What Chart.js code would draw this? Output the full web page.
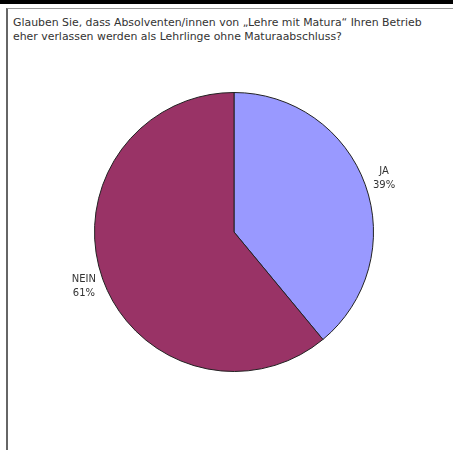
<!DOCTYPE html>
<html>
<head>
<meta charset="utf-8">
<script src="https://cdn.jsdelivr.net/npm/chart.js@4"></script>
<style>
  html, body { margin: 0; padding: 0; background: #fff; }
  #wrap { position: relative; width: 453px; height: 450px; overflow: hidden; }
  #topbar { position: absolute; left: 0; top: 0; width: 453px; height: 4px; background: #000; }
  #frame { position: absolute; left: 6px; top: 8px; width: 460px; height: 460px;
           border-left: 2px solid #666; border-top: 1px solid #999; }
  #title { position: absolute; left: 13px; top: 16px; font: 10.9px "DejaVu Sans", sans-serif;
           line-height: 14px; color: #333; white-space: nowrap; }
  canvas { position: absolute; left: 0; top: 0; }
</style>
</head>
<body>
<div id="wrap">
  <div id="topbar"></div>
  <div id="frame"></div>
  <div id="title">Glauben Sie, dass Absolventen/innen von „Lehre mit Matura“ Ihren Betrieb<br>eher verlassen werden als Lehrlinge ohne Maturaabschluss?</div>
  <canvas id="pie" width="453" height="450"></canvas>
</div>
<script>
const categories = ['JA', 'NEIN'];
const shares = [39, 61];
const sliceColors = ['#9999FF', '#993366'];

// labels outside the slices: name on top, percent below
const outerLabels = {
    id: 'outerLabels',
    afterDatasetsDraw(chart) {
        const ctx = chart.ctx;
        const meta = chart.getDatasetMeta(0);
        ctx.save();
        ctx.font = '10px "DejaVu Sans", sans-serif';
        ctx.fillStyle = '#333';
        ctx.textAlign = 'center';
        ctx.textBaseline = 'middle';
        meta.data.forEach((arc, i) => {
            const mid = (arc.startAngle + arc.endAngle) / 2;
            const r = arc.outerRadius + 20;
            const x = arc.x + Math.cos(mid) * r;
            const y = arc.y + Math.sin(mid) * r;
            ctx.fillText(categories[i], x, y - 7);
            ctx.fillText(shares[i] + '%', x, y + 7);
        });
        ctx.restore();
    }
};

new Chart(document.getElementById('pie'), {
    type: 'pie',
    data: {
        labels: categories,
        datasets: [{
            data: shares,
            backgroundColor: sliceColors,
            borderColor: '#222',
            borderWidth: 1
        }]
    },
    options: {
        responsive: false,
        animation: false,
        layout: { padding: { left: 94, right: 79, top: 92, bottom: 78 } },
        plugins: { legend: { display: false }, tooltip: { enabled: false } }
    },
    plugins: [outerLabels]
});
</script>
</body>
</html>
